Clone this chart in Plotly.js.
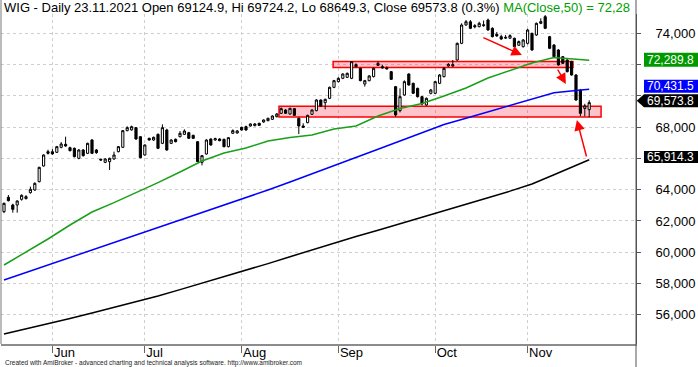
<!DOCTYPE html>
<html><head><meta charset="utf-8">
<script src="https://cdn.plot.ly/plotly-3.0.1.min.js"></script>
<style>html,body{margin:0;padding:0;background:#fff;overflow:hidden}#chart{width:698px;height:367px}</style>
</head><body><div id="chart"></div>
<script>
// ---- data ----
const dates = ["2021-05-17","2021-05-18","2021-05-19","2021-05-20","2021-05-21","2021-05-24","2021-05-25","2021-05-26","2021-05-27","2021-05-28","2021-05-31",
"2021-06-01","2021-06-02","2021-06-04","2021-06-07","2021-06-08","2021-06-09","2021-06-10","2021-06-11","2021-06-14","2021-06-15","2021-06-16","2021-06-17","2021-06-18","2021-06-21","2021-06-22","2021-06-23","2021-06-24","2021-06-25","2021-06-28","2021-06-29","2021-06-30",
"2021-07-01","2021-07-02","2021-07-05","2021-07-06","2021-07-07","2021-07-08","2021-07-09","2021-07-12","2021-07-13","2021-07-14","2021-07-15","2021-07-16","2021-07-19","2021-07-20","2021-07-21","2021-07-22","2021-07-23","2021-07-26","2021-07-27","2021-07-28","2021-07-29","2021-07-30",
"2021-08-02","2021-08-03","2021-08-04","2021-08-05","2021-08-06","2021-08-09","2021-08-10","2021-08-11","2021-08-12","2021-08-13","2021-08-16","2021-08-17","2021-08-18","2021-08-19","2021-08-20","2021-08-23","2021-08-24","2021-08-25","2021-08-26","2021-08-27","2021-08-30","2021-08-31",
"2021-09-01","2021-09-02","2021-09-03","2021-09-06","2021-09-07","2021-09-08","2021-09-09","2021-09-10","2021-09-13","2021-09-14","2021-09-15","2021-09-16","2021-09-17","2021-09-20","2021-09-21","2021-09-22","2021-09-23","2021-09-24","2021-09-27","2021-09-28","2021-09-29","2021-09-30",
"2021-10-01","2021-10-04","2021-10-05","2021-10-06","2021-10-07","2021-10-08","2021-10-11","2021-10-12","2021-10-13","2021-10-14","2021-10-15","2021-10-18","2021-10-19","2021-10-20","2021-10-21","2021-10-22","2021-10-25","2021-10-26","2021-10-27","2021-10-28","2021-10-29",
"2021-11-02","2021-11-03","2021-11-04","2021-11-05","2021-11-08","2021-11-09","2021-11-10","2021-11-12","2021-11-15","2021-11-16","2021-11-17","2021-11-18","2021-11-19","2021-11-22","2021-11-23"];

const openP = [62594,63512,63021,63021,63384,63427,63810,63981,64515,65518,66435,
66430,66393,66712,66904,66691,66648,66008,66542,66328,67182,66542,65950,65752,65795,65966,66435,66712,67780,67830,67972,67395,
66221,67289,67182,67545,66968,67822,66968,67225,67395,67545,67652,67480,67075,65752,66286,67246,67182,67246,67225,66755,67609,67630,
67993,68036,68079,68100,68249,68335,68420,68506,68676,68889,69103,68847,69188,68570,68079,68292,68825,69060,69743,69572,69850,70554,
70917,71130,71194,71130,72005,71770,70767,70980,71237,71962,71877,71800,71557,70597,69060,70063,71407,70810,70490,69956,69423,70170,
70170,70810,71236,71919,71920,72303,73370,74543,74750,74500,74437,74500,74864,74330,73950,73797,73700,73700,73690,73250,73157,
73370,74010,73904,74650,75077,73797,73263,72943,72516,72303,72197,71343,70382,69200,69124.9];

const highP = [63180,63661,63100,63320,63700,63650,64195,64470,65470,66260,66560,
66600,66800,67050,67395,66750,66700,66600,66600,67010,67240,66600,65990,66010,66050,66435,66800,67820,68060,68100,68010,67420,
66900,67330,67400,67600,68185,67900,67230,67280,67750,67865,67700,67520,67100,66220,67230,67290,67330,67290,67270,67370,67860,67820,
68036,68100,68250,68270,68290,68500,68610,68760,68900,69270,69150,69250,69230,68620,68250,68800,69150,69790,69780,69830,70600,71030,
71200,71450,71500,72240,72090,71810,71030,71330,71810,72200,72000,71900,71600,70640,70490,71000,71450,70850,70530,70000,69900,70450,
70960,71400,71850,72100,72303,73420,74650,74864,74860,74600,74750,74830,74950,74400,74100,73920,73900,73950,73740,73550,73640,
74300,74050,74700,74970,75180,73850,73320,73000,72560,72350,72250,71400,70450,69500,69724.2];

const lowP = [62500,63250,62530,62530,63300,63380,63750,63930,64470,65480,66250,
66240,66350,66650,66750,66450,66070,65950,66120,66280,66280,66300,65850,65700,65262,65920,66390,66680,67740,67780,67200,66010,
66180,67140,67130,66600,66920,66500,66920,67030,67350,67500,67250,67250,65760,65560,66250,66820,67140,67100,66710,66710,67580,67600,
67780,67780,68036,68060,68080,68290,68380,68460,68630,68850,68850,68800,68720,67566,67950,68250,68780,69020,69300,69145,69800,70500,
70870,71080,71150,71080,71830,70940,70600,70940,71190,71920,71750,71700,71020,68676,68950,70020,70660,70130,69900,69400,69380,70100,
70130,70760,71190,71870,71870,72260,73320,74500,74280,74330,74400,74430,74180,73750,73780,73580,73650,73650,73110,73200,73100,
73300,72900,73850,74600,74280,73000,72470,71940,72040,71510,71300,69700,68700,68700,68649.3];

const closeP = [63127,63298,62743,63277,63640,63555,64024,64408,65432,66222,66330,
66290,66755,66926,66798,66499,66115,66542,66180,66968,66328,66371,65902,65966,66008,66222,66755,67780,67972,68036,67246,66051,
66862,67182,67353,66648,67972,66542,67182,67075,67609,67758,67289,67289,65795,66179,67182,66862,67267,67139,66755,67332,67780,67760,
67822,67822,68207,68207,68120,68463,68570,68719,68847,69188,68889,69210,68761,68079,67993,68761,69103,69743,69359,69786,70554,70981,
71130,71408,71450,72197,71877,70981,70980,71280,71770,72090,71800,71740,71066,68782,69956,70917,70703,70170,69956,69487,69850,70383,
70917,71343,71770,72026,72000,73370,74543,74750,74330,74437,74650,74550,74224,73797,73850,73650,73750,73860,73157,73480,73583,
74224,72943,74650,74760,74330,73050,72516,71983,72090,71556,71343,69742,68889,69366,69573.8];

// moving averages, read at every 5th bar
const maIdx  = [0,5,10,15,20,25,30,35,40,45,50,55,60,65,70,75,80,85,90,95,100,105,110,115,120,125,130,133];
const ma50   = [59179,60012,60844,61740,62572,63174,63789,64455,65133,65837,66350,66670,67118,67342,67502,67886,68078,68718,69198,69519,69999,70511,71151,71631,72111,72464,72367,72289.8];
const ma100  = [58219,58699,59179,59660,60140,60614,61100,61567,62060,62521,62995,63469,63981,64493,65005,65517,66055,66586,67118,67643,68174,68578,68981,69397,69807,70204,70351,70431.5];
const ma200  = [54762,55082,55402,55754,56106,56459,56811,57195,57604,58008,58411,58827,59269,59711,60152,60588,61004,61407,61817,62220,62636,63059,63488,63910,64365,64960,65549,65914.3];

const monthLabels = ["Jun","Jul","Aug","Sep","Oct","Nov"];
const yTickVals = [56000,58000,60000,62000,64000,66000,68000,70000,72000,74000];
// tick labels hidden behind the value boxes in the reference
const yTickText = ["56,000","58,000","60,000","62,000","64,000","","68,000","","","74,000"];

// zones and arrows (bar index / price)
const zones = [
  {x0:74.8, x1:129.3, y0:71823, y1:72207},
  {x0:62.5, x1:135.7, y0:68654, y1:69339}
];
const arrows = [
  {x:117.7, y:72624, ax:-40, ay:-18},
  {x:127.7, y:70767, ax:-9, ay:-16},
  {x:130.2, y:68462, ax:10, ay:38}
];

// ---- build ----
const idx = dates.map((d,i)=>i);
const monthIdx = [];
dates.forEach((d,i)=>{ if(i>0 && d.slice(5,7)!==dates[i-1].slice(5,7)) monthIdx.push(i); });

const plotT = 14, plotB = 23, plotL = 1, plotR = 62;
const W = 698, H = 367;
const plotW = W - plotL - plotR, plotH = H - plotT - plotB;
const barPx = 4.4, firstBarPx = 4;
const xRange = [-(firstBarPx - plotL)/barPx, -(firstBarPx - plotL)/barPx + plotW/barPx];
const yRange = [54122, 75248];
const vpp = (yRange[1]-yRange[0])/plotH;
const px2paper = p => (p - plotL)/plotW;

const lastClose = closeP[closeP.length-1];
const fmt = v => v.toLocaleString('en-US',{minimumFractionDigits:1, maximumFractionDigits:1});
const labels = [
  {v: ma50[ma50.length-1],  shift:0.5, bg:'#009a00', shape:'rect', half:7},
  {v: ma100[ma100.length-1], shift:2.9, bg:'#0000ff', shape:'rect', half:6.5},
  {v: lastClose, shift:1.9, bg:'#000000', shape:'arrow', half:6.5},
  {v: ma200[ma200.length-1], shift:2.8, bg:'#000000', shape:'rect', half:6}
];

const shapes = [];
zones.forEach(z=>shapes.push({type:'rect', xref:'x', yref:'y', x0:z.x0, x1:z.x1, y0:z.y0, y1:z.y1,
  line:{color:'#ff0000', width:1.5}, fillcolor:'rgba(255,40,70,0.28)', layer:'between'}));
// left border & right axis extension
shapes.push({type:'line', xref:'paper', yref:'paper', x0:0, x1:0, y0:0, y1:1.1, line:{color:'#777', width:1}});
shapes.push({type:'line', xref:'paper', yref:'paper', x0:1, x1:1, y0:-0.2, y1:1.1, line:{color:'#555', width:1}});

const annotations = [];
labels.forEach(l=>{
  const c = l.v + l.shift*vpp, t = c + l.half*vpp, b = c - l.half*vpp;
  const xa = px2paper(644), xe = px2paper(705);
  if(l.shape==='rect'){
    shapes.push({type:'rect', xref:'paper', yref:'y', x0:xa, x1:xe, y0:b, y1:t, line:{width:0}, fillcolor:l.bg, layer:'above'});
  } else {
    const tip = px2paper(636.7);
    shapes.push({type:'path', xref:'paper', yref:'y', path:`M ${tip} ${c} L ${xa} ${t} L ${xe} ${t} L ${xe} ${b} L ${xa} ${b} Z`, line:{width:0}, fillcolor:l.bg, layer:'above'});
  }
  annotations.push({xref:'paper', yref:'y', x:px2paper(646), y:c, xanchor:'left', yanchor:'middle', text:fmt(l.v), showarrow:false,
    font:{color:'#fff', size:12}, borderpad:0});
});

annotations.push({xref:'paper', yref:'paper', x:0, y:1, xanchor:'left', yanchor:'middle', xshift:1, yshift:7, showarrow:false,
  text:"WIG - Daily 23.11.2021 Open 69124.9, Hi 69724.2, Lo 68649.3, Close 69573.8 (0.3%) <span style='color:#00a000'>MA(Close,50) = 72,28</span>",
  font:{size:13, color:'#000'}});
annotations.push({xref:'paper', yref:'paper', x:0, y:0, xanchor:'left', yanchor:'middle', xshift:2, yshift:-19, showarrow:false,
  text:"Created with AmiBroker - advanced charting and technical analysis software. http://www.amibroker.com",
  font:{size:6.5, color:'#222'}});
arrows.forEach(a=>annotations.push({xref:'x', yref:'y', x:a.x, y:a.y, ax:a.ax, ay:a.ay, text:'', showarrow:true,
  arrowhead:2, arrowsize:1.4, arrowwidth:1.5, arrowcolor:'#ff0000', standoff:0}));

const traces = [
  {type:'candlestick', x:idx, open:openP, high:highP, low:lowP, close:closeP,
   increasing:{line:{color:'#000', width:1}, fillcolor:'#ffffff'},
   decreasing:{line:{color:'#000', width:1}, fillcolor:'#000000'},
   whiskerwidth:0, hoverinfo:'skip'},
  {type:'scatter', mode:'lines', x:maIdx, y:ma200, line:{color:'#000000', width:1.5}, hoverinfo:'skip'},
  {type:'scatter', mode:'lines', x:maIdx, y:ma100, line:{color:'#0000ff', width:1.5}, hoverinfo:'skip'},
  {type:'scatter', mode:'lines', x:maIdx, y:ma50,  line:{color:'#1a9f1a', width:1.5}, hoverinfo:'skip'}
];

const layout = {
  width:W, height:H,
  margin:{l:plotL, r:plotR, t:plotT, b:plotB, pad:0},
  paper_bgcolor:'#fff', plot_bgcolor:'#fff',
  showlegend:false, hovermode:false,
  font:{family:'"Liberation Sans", Arial, sans-serif', size:13, color:'#000'},
  xaxis:{type:'linear', range:xRange, tickmode:'array', tickvals:monthIdx, ticktext:monthLabels,
    showgrid:true, gridcolor:'#cfcfcf', griddash:'3px,3px', gridwidth:1,
    showline:true, linecolor:'#8c8c8c', linewidth:2, zeroline:false,
    ticks:'outside', ticklen:7, tickcolor:'#666', ticklabelposition:'outside right', ticklabelstandoff:-5,
    tickfont:{size:13, color:'#000'}, rangeslider:{visible:false}, fixedrange:true},
  yaxis:{side:'right', range:yRange, tickmode:'array', tickvals:yTickVals, ticktext:yTickText,
    showgrid:true, gridcolor:'#cfcfcf', griddash:'3px,3px', gridwidth:1,
    showline:true, linecolor:'#555', zeroline:false,
    ticks:'outside', ticklen:4, tickcolor:'#555', ticklabelstandoff:12,
    tickfont:{size:13, color:'#000'}, fixedrange:true},
  shapes:shapes, annotations:annotations
};

Plotly.newPlot('chart', traces, layout, {staticPlot:true, displayModeBar:false});
</script>
</body></html>
